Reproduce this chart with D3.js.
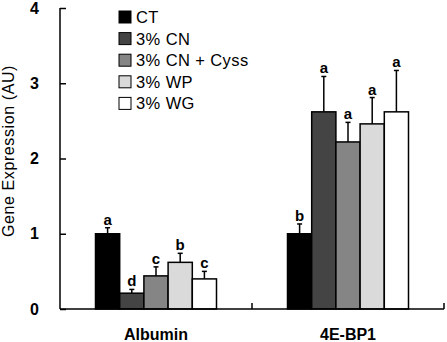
<!DOCTYPE html>
<html>
<head>
<meta charset="utf-8">
<script src="https://cdn.jsdelivr.net/npm/d3@7"></script>
<style>
body { margin: 0; background: #fff; }
svg text { font-family: "Liberation Sans", Arial, sans-serif; fill: #000; }
</style>
</head>
<body>
<div id="wrapper"></div>
<script>
const genes = ["Albumin", "4E-BP1"];
const groups = ["CT", "3% CN", "3% CN + Cyss", "3% WP", "3% WG"];
const colors = ["#000000", "#444444", "#858585", "#dadada", "#ffffff"];
const yTicks = [0, 1, 2, 3, 4];

// mean, error, letter per group (order of groups)
const albuminMean = [1.0, 0.21, 0.44, 0.62, 0.40];
const albuminErr = [0.08, 0.05, 0.12, 0.12, 0.10];
const albuminLetter = ["a", "d", "c", "b", "c"];
const bp1Mean = [1.0, 2.62, 2.22, 2.46, 2.62];
const bp1Err = [0.13, 0.47, 0.26, 0.35, 0.55];
const bp1Letter = ["b", "a", "a", "a", "a"];

const data = [
  {gene: "Albumin", mean: albuminMean, err: albuminErr, letter: albuminLetter},
  {gene: "4E-BP1", mean: bp1Mean, err: bp1Err, letter: bp1Letter},
];

let dimensions = {
  width: 447,
  height: 342,
  margin: {top: 8, right: 3, bottom: 33, left: 60},
};
dimensions.boundedWidth = dimensions.width - dimensions.margin.left - dimensions.margin.right;
dimensions.boundedHeight = dimensions.height - dimensions.margin.top - dimensions.margin.bottom;

const svg = d3.select("#wrapper").append("svg")
  .attr("width", dimensions.width)
  .attr("height", dimensions.height);

const bounds = svg.append("g")
  .attr("transform", `translate(${dimensions.margin.left},${dimensions.margin.top})`);

const yScale = d3.scaleLinear()
  .domain([0, 4])
  .range([dimensions.boundedHeight, 0]);

const xScale = d3.scaleBand()
  .domain(genes)
  .range([0, dimensions.boundedWidth]);

const groupWidth = 121;
const xInner = d3.scaleBand()
  .domain(groups)
  .range([(xScale.bandwidth() - groupWidth) / 2, (xScale.bandwidth() + groupWidth) / 2]);

// bars
const geneG = bounds.selectAll(".gene")
  .data(data)
  .join("g")
  .attr("transform", d => `translate(${xScale(d.gene)},0)`);

geneG.each(function(d) {
  const g = d3.select(this);
  const rows = groups.map((grp, i) => ({grp, i, mean: d.mean[i], err: d.err[i], letter: d.letter[i]}));

  // error bars (drawn first, bar covers lower part)
  g.selectAll(".err")
    .data(rows)
    .join("line")
    .attr("x1", r => xInner(r.grp) + xInner.bandwidth() / 2)
    .attr("x2", r => xInner(r.grp) + xInner.bandwidth() / 2)
    .attr("y1", r => yScale(r.mean))
    .attr("y2", r => yScale(r.mean + r.err))
    .attr("stroke", "#000")
    .attr("stroke-width", 1.5);
  g.selectAll(".cap")
    .data(rows)
    .join("line")
    .attr("x1", r => xInner(r.grp) + xInner.bandwidth() / 2 - 2.5)
    .attr("x2", r => xInner(r.grp) + xInner.bandwidth() / 2 + 2.5)
    .attr("y1", r => yScale(r.mean + r.err))
    .attr("y2", r => yScale(r.mean + r.err))
    .attr("stroke", "#000")
    .attr("stroke-width", 1.5);

  g.selectAll(".bar")
    .data(rows)
    .join("rect")
    .attr("x", r => xInner(r.grp))
    .attr("width", xInner.bandwidth())
    .attr("y", r => yScale(r.mean))
    .attr("height", r => yScale(0) - yScale(r.mean))
    .attr("fill", r => colors[r.i])
    .attr("stroke", "#000")
    .attr("stroke-width", 1.5);

  g.selectAll(".letter")
    .data(rows)
    .join("text")
    .attr("x", r => xInner(r.grp) + xInner.bandwidth() / 2)
    .attr("y", r => yScale(r.mean + r.err) - 3)
    .attr("text-anchor", "middle")
    .style("font-size", "15px")
    .style("font-weight", "bold")
    .text(r => r.letter);
});

// y axis
const yAxisGenerator = d3.axisLeft(yScale)
  .tickValues(yTicks)
  .tickSize(-6)
  .tickPadding(21)
  .tickFormat(d3.format("d"));
const yAxis = bounds.append("g").call(yAxisGenerator);
yAxis.select(".domain").attr("stroke-width", 1.5).attr("d", `M0,0V${dimensions.boundedHeight}`);
yAxis.selectAll(".tick line").attr("stroke-width", 1.5);
yAxis.selectAll(".tick text")
  .style("font-size", "16px")
  .style("font-weight", "bold")
  .style("font-family", "'Liberation Sans', Arial, sans-serif");

// x axis
const xAxisGenerator = d3.axisBottom(xScale).tickSize(0).tickFormat("");
const xAxis = bounds.append("g")
  .attr("transform", `translate(0,${dimensions.boundedHeight})`)
  .call(xAxisGenerator);
xAxis.select(".domain").attr("stroke-width", 1.5).attr("d", `M0,0H${dimensions.boundedWidth}`);
xAxis.selectAll(".tick").remove();
// tick marks at group boundaries (pointing up)
xAxis.selectAll(".sep")
  .data(genes.slice(1).map(g => xScale(g)).concat([dimensions.boundedWidth]))
  .join("line")
  .attr("x1", d => d).attr("x2", d => d)
  .attr("y1", 0).attr("y2", -6)
  .attr("stroke", "#000")
  .attr("stroke-width", 1.5);
xAxis.selectAll(".lab")
  .data(genes)
  .join("text")
  .attr("x", d => xScale(d) + xScale.bandwidth() / 2)
  .attr("y", 31)
  .attr("text-anchor", "middle")
  .style("font-size", "16px")
  .style("font-weight", "bold")
  .text(d => d);

// y title
svg.append("text")
  .attr("transform", "translate(14,151) rotate(-90)")
  .attr("text-anchor", "middle")
  .style("font-size", "16px")
  .style("letter-spacing", "0.6px")
  .text("Gene Expression (AU)");

// legend
const legend = svg.append("g").attr("transform", "translate(119,11)");
const legendItems = legend.selectAll("g")
  .data(groups)
  .join("g")
  .attr("transform", (d, i) => `translate(0,${i * 21.6})`);
legendItems.append("rect")
  .attr("width", 12)
  .attr("height", 12)
  .attr("fill", (d, i) => colors[i])
  .attr("stroke", "#000")
  .attr("stroke-width", 1);
legendItems.append("text")
  .attr("x", 17)
  .attr("y", 12)
  .style("font-size", "16.5px")
  .style("letter-spacing", "0.4px")
  .text(d => d);
</script>
</body>
</html>
